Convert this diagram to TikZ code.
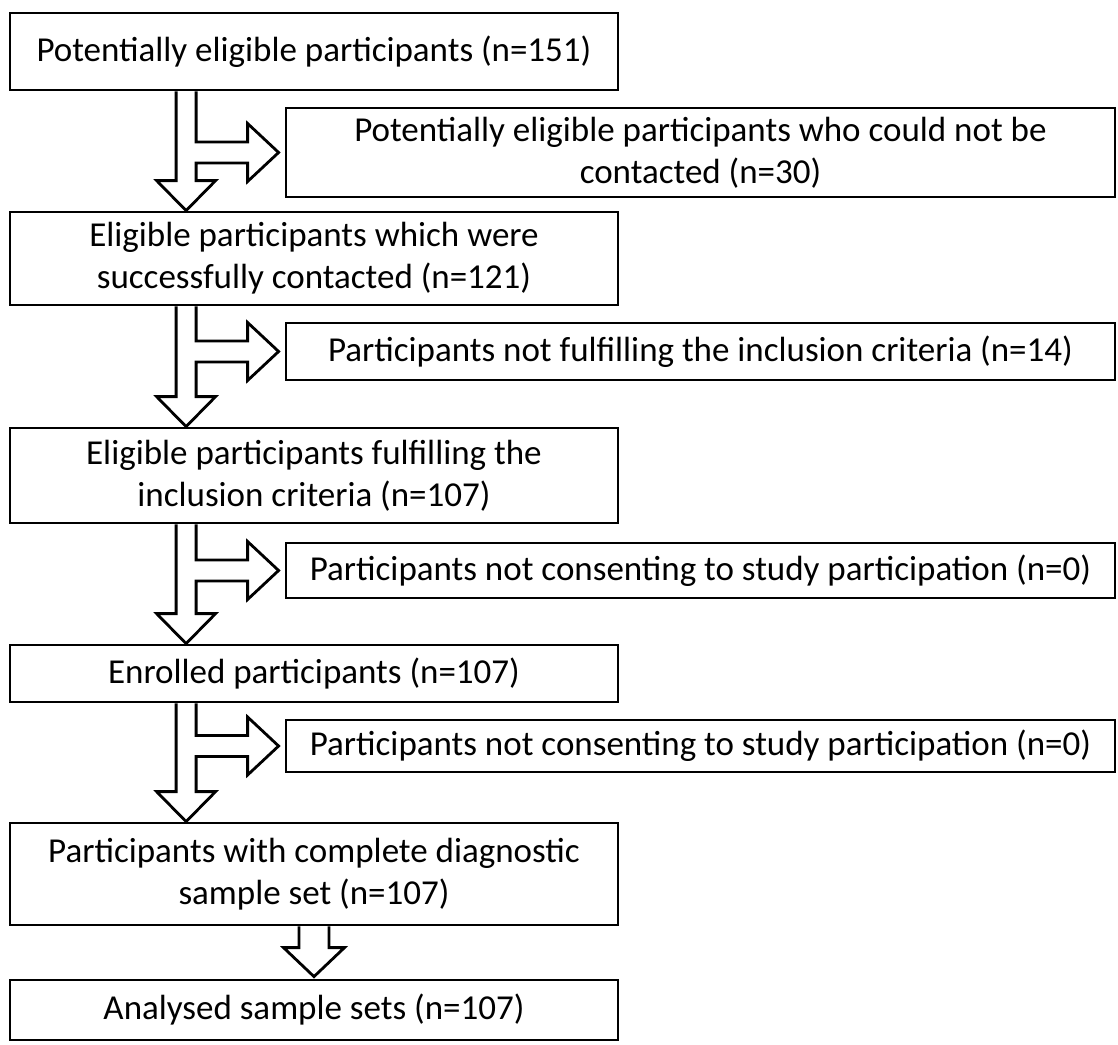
\documentclass[tikz,border=0pt]{standalone}
\usepackage{fontspec}
\setmainfont{Carlito}
\usetikzlibrary{positioning,calc}

\tikzset{
	box/.style={draw, line width=2.8pt, inner sep=0pt, align=center, font=\fontsize{35}{42}\selectfont},
	leftbox/.style={box, minimum width=608pt},
	sidebox/.style={box, minimum width=829pt},
	fatarrow/.style={draw, line width=2.8pt},
}

\newcommand{\splitarrow}[3]{%
	\coordinate (top) at ([xshift=167.5pt]#1.south west);
	\coordinate (tip) at ([xshift=177.5pt]#2.north west);
	\coordinate (side) at ([xshift=-6pt]#3.west);
	\draw[fatarrow] (top) -- ($(tip)+(-10pt,30pt)$) -- ($(tip)+(-29.5pt,30pt)$) -- (tip)
		-- ($(tip)+(29.5pt,30pt)$) -- ($(tip)+(10pt,30pt)$)
		-- ($(top |- side)+(20pt,-10.5pt)$) -- ($(side)+(-31pt,-10.5pt)$) -- ($(side)+(-31pt,-29pt)$) -- (side)
		-- ($(side)+(-31pt,29pt)$) -- ($(side)+(-31pt,10.5pt)$) -- ($(top |- side)+(20pt,10.5pt)$) -- ($(top)+(20pt,0)$);
}

\newcommand{\fatdown}[2]{%
	\coordinate (tip) at ([yshift=2pt]#2.north);
	\draw[fatarrow] ($(#1.south)+(-15pt,0)$) -- ($(tip)+(-15pt,29pt)$) -- ($(tip)+(-30.5pt,29pt)$) -- (tip)
		-- ($(tip)+(30.5pt,29pt)$) -- ($(tip)+(15pt,29pt)$) -- ($(#1.south)+(15pt,0)$);
}

\begin{document}
\begin{tikzpicture}[x=1pt,y=-1pt]
		\useasboundingbox (0,0) rectangle (1118,1044);
		\node[leftbox, minimum height=77pt] (pot) at (314,51.5) {Potentially eligible participants (n=151)};
		\node[sidebox, minimum height=89pt] (nocontact) at (700.5,152.5) {Potentially eligible participants who could not be\\contacted (n=30)};
		\node[leftbox, minimum height=93pt] (contacted) at (314,258.5) {Eligible participants which were\\successfully contacted (n=121)};
		\node[sidebox, minimum height=57pt] (notfulfil) at (700.5,351.5) {Participants not fulfilling the inclusion criteria (n=14)};
		\node[leftbox, minimum height=95pt] (fulfil) at (314,475.5) {Eligible participants fulfilling the\\inclusion criteria (n=107)};
		\node[sidebox, minimum height=55pt] (noconsent) at (700.5,570.5) {Participants not consenting to study participation (n=0)};
		\node[leftbox, minimum height=57pt] (enrolled) at (314,673.5) {Enrolled participants (n=107)};
		\node[sidebox, minimum height=52pt] (dropout) at (700.5,746) {Participants not consenting to study participation (n=0)};
		\node[leftbox, minimum height=102pt] (complete) at (314,874) {Participants with complete diagnostic\\sample set (n=107)};
		\node[leftbox, minimum height=60pt] (analysed) at (314,1010) {Analysed sample sets (n=107)};

		\splitarrow{pot}{contacted}{nocontact}
		\splitarrow{contacted}{fulfil}{notfulfil}
		\splitarrow{fulfil}{enrolled}{noconsent}
		\splitarrow{enrolled}{complete}{dropout}
		\fatdown{complete}{analysed}
\end{tikzpicture}
\end{document}
